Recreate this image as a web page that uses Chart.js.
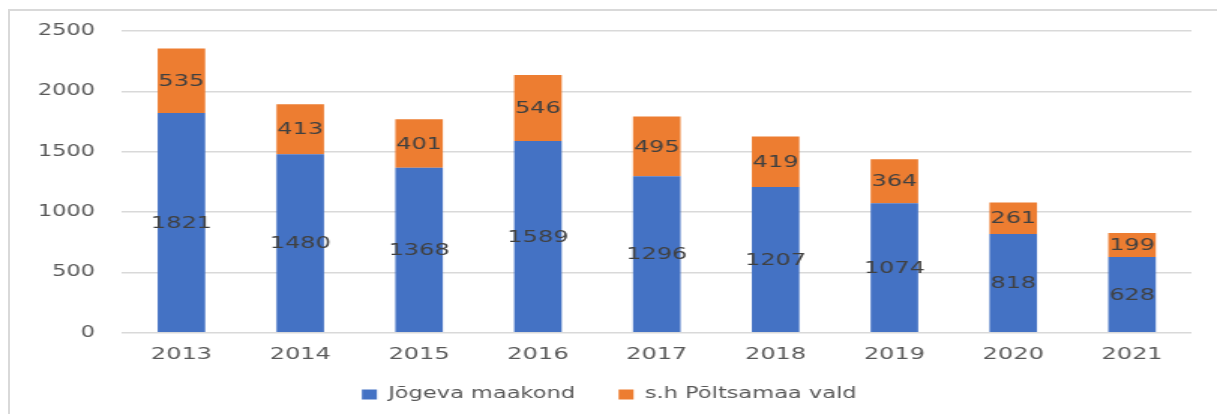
<!DOCTYPE html>
<html>
<head>
<meta charset="utf-8">
<script src="https://cdn.jsdelivr.net/npm/chart.js@4"></script>
<style>
  body { margin: 0; background: #fff; overflow: hidden; }
  #frame { position: absolute; left: 8px; top: 9px; width: 1300px; height: 500px;
           border-left: 2px solid #d9d9d9; border-top: 2px solid #d9d9d9; }
  /* original picture is stretched sideways, so the chart is drawn narrow and widened */
  #wrap { position: absolute; left: 0; top: 0; width: 811px; height: 414px;
          transform: scaleX(1.5006); transform-origin: 0 0; }
</style>
</head>
<body>
<div id="frame"></div>
<div id="wrap"><canvas id="chart"></canvas></div>
<script>
const years = ['2013', '2014', '2015', '2016', '2017', '2018', '2019', '2020', '2021']
const jogeva = [1821, 1480, 1368, 1589, 1296, 1207, 1074, 818, 628]
const poltsamaa = [535, 413, 401, 546, 495, 419, 364, 261, 199]
const seriesNames = ['Jõgeva maakond', 's.h Põltsamaa vald']
const yTicks = [0, 500, 1000, 1500, 2000, 2500]

const FONT = 'DejaVu Sans'

// values written in the middle of each bar piece
const barLabels = {
    id: 'barLabels',
    afterDatasetsDraw(chart) {
        const ctx = chart.ctx
        ctx.save()
        ctx.font = '16px "' + FONT + '"'
        ctx.fillStyle = '#404040'
        ctx.textAlign = 'center'
        ctx.textBaseline = 'middle'
        chart.data.datasets.forEach((ds, i) => {
            chart.getDatasetMeta(i).data.forEach((bar, j) => {
                ctx.fillText(ds.data[j], bar.x, (bar.y + bar.base) / 2 + 1)
            })
        })
        ctx.restore()
    }
}

// legend padding is big for the gap between items, so pull the row up a bit
// (only the top moves, the box just gets taller so nothing is clipped)
const legendShift = {
    id: 'legendShift',
    afterLayout(chart) {
        const lg = chart.legend
        lg.top -= 18
        lg.height += 18
        lg.left += 9
        lg.right += 9
    }
}

new Chart(document.getElementById('chart').getContext('2d'), {
    type: 'bar',
    data: {
        labels: years,
        datasets: [
            { label: seriesNames[0], data: jogeva, backgroundColor: '#4472c4' },
            { label: seriesNames[1], data: poltsamaa, backgroundColor: '#ed7d31' }
        ]
    },
    options: {
        responsive: true,
        maintainAspectRatio: false,
        animation: false,
        layout: { padding: { left: 0, right: 17, top: 31, bottom: 0 } },
        datasets: { bar: { categoryPercentage: 1, barPercentage: 0.4 } },
        plugins: {
            tooltip: { enabled: false },
            legend: {
                position: 'bottom',
                maxHeight: 38,
                labels: {
                    boxWidth: 10,
                    boxHeight: 10,
                    padding: 29,
                    color: '#595959',
                    font: { family: FONT, size: 15 }
                }
            }
        },
        scales: {
            x: {
                stacked: true,
                grid: { display: false, drawTicks: false },
                border: { display: false },
                ticks: { color: '#595959', padding: 12, font: { family: FONT, size: 16 } }
            },
            y: {
                stacked: true,
                min: 0,
                max: 2500,
                afterFit: s => { s.width = 81.3 },
                afterBuildTicks: s => { s.ticks = yTicks.map(v => ({ value: v })) },
                grid: { color: '#d9d9d9', lineWidth: 1.5, drawTicks: false },
                border: { display: false },
                ticks: {
                    color: '#595959',
                    padding: 18,
                    font: { family: FONT, size: 15 },
                    callback: v => String(v)
                }
            }
        }
    },
    plugins: [barLabels, legendShift]
});
</script>
</body>
</html>
